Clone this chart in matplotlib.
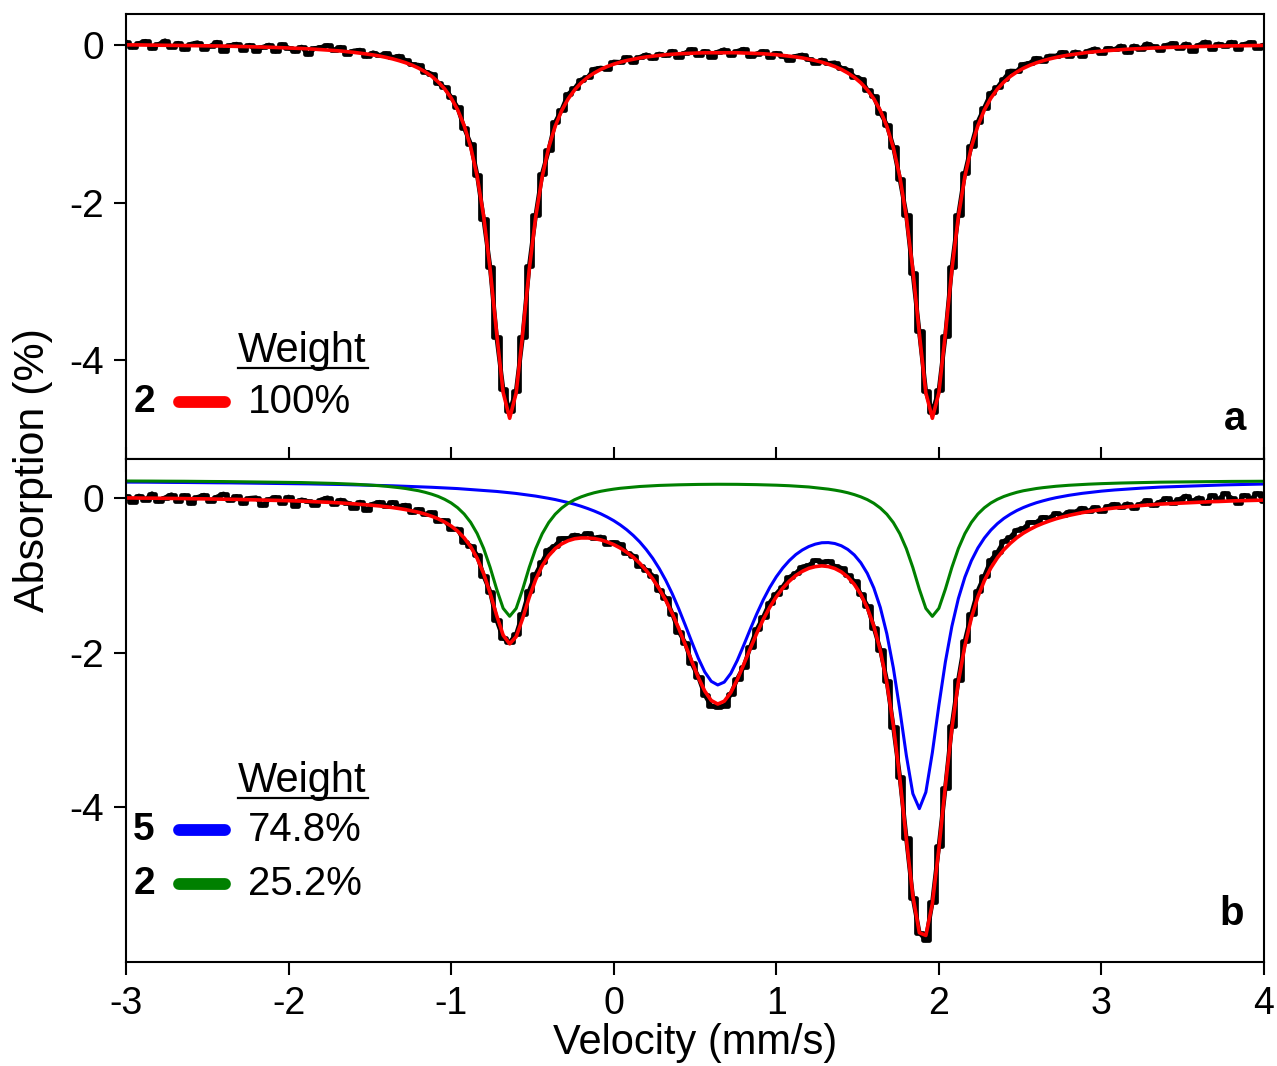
import matplotlib.pyplot as plt
import numpy as np
from matplotlib.lines import Line2D

plt.rcParams['font.family'] = ['Liberation Sans', 'DejaVu Sans']
plt.rcParams['axes.unicode_minus'] = False

# velocity channels, 0.04 mm/s apart
velocity = np.linspace(-3.0, 4.0, 176)

# --- panel a: sample 2, single doublet ---
fit_a = [
    0.002, 0.002, 0.001, 0.000, -0.001, -0.002, -0.003, -0.004, -0.005, -0.006,
    -0.007, -0.008, -0.009, -0.011, -0.012, -0.013, -0.015, -0.017, -0.019, -0.021,
    -0.023, -0.026, -0.028, -0.031, -0.033, -0.037, -0.040, -0.044, -0.048, -0.053,
    -0.058, -0.064, -0.070, -0.076, -0.084, -0.093, -0.103, -0.114, -0.126, -0.140,
    -0.157, -0.176, -0.199, -0.225, -0.256, -0.294, -0.340, -0.396, -0.468, -0.557,
    -0.672, -0.822, -1.022, -1.294, -1.666, -2.175, -2.851, -3.661, -4.412, -4.740,
    -4.418, -3.667, -2.858, -2.183, -1.674, -1.303, -1.031, -0.832, -0.683, -0.569,
    -0.480, -0.410, -0.355, -0.310, -0.273, -0.243, -0.218, -0.197, -0.180, -0.164,
    -0.151, -0.141, -0.132, -0.123, -0.117, -0.111, -0.108, -0.104, -0.101, -0.098,
    -0.098, -0.097, -0.097, -0.098, -0.098, -0.101, -0.104, -0.108, -0.111, -0.117,
    -0.123, -0.132, -0.141, -0.151, -0.164, -0.180, -0.197, -0.218, -0.243, -0.273,
    -0.310, -0.355, -0.410, -0.480, -0.569, -0.683, -0.832, -1.031, -1.303, -1.674,
    -2.183, -2.858, -3.667, -4.418, -4.740, -4.417, -3.666, -2.855, -2.179, -1.669,
    -1.297, -1.025, -0.824, -0.674, -0.559, -0.470, -0.398, -0.342, -0.295, -0.257,
    -0.226, -0.200, -0.177, -0.158, -0.141, -0.127, -0.115, -0.104, -0.093, -0.085,
    -0.077, -0.071, -0.065, -0.059, -0.053, -0.049, -0.045, -0.041, -0.038, -0.034,
    -0.031, -0.028, -0.026, -0.023, -0.021, -0.019, -0.018, -0.016, -0.014, -0.012,
    -0.011, -0.009, -0.008, -0.007, -0.006, -0.005,
]
# measured minus fit
resid_a = [
    0.04, -0.03, 0.02, 0.05, -0.04, 0.01, 0.06, -0.02, 0.03, -0.05,
    0.02, 0.04, -0.04, 0.00, 0.05, -0.06, 0.01, 0.03, -0.04, 0.02,
    -0.05, 0.00, 0.03, -0.05, 0.04, 0.00, -0.04, 0.02, -0.07, 0.01,
    0.03, 0.06, 0.01, 0.05, -0.03, 0.02, 0.04, -0.03, 0.03, 0.01,
    0.05, 0.02, 0.06, 0.03, 0.01, 0.04, 0.00, 0.03, -0.02, 0.02,
    0.01, 0.03, -0.03, 0.04, 0.02, -0.04, 0.03, -0.05, 0.04, 0.09,
    0.03, -0.04, 0.05, 0.02, 0.04, -0.03, 0.05, 0.01, 0.06, 0.02,
    0.04, 0.00, 0.05, 0.02, -0.03, 0.03, 0.00, 0.04, -0.04, 0.01,
    0.03, -0.03, 0.02, -0.01, 0.04, -0.04, 0.01, 0.05, -0.02, 0.02,
    -0.05, 0.01, 0.04, -0.03, 0.02, 0.05, -0.04, 0.00, 0.03, -0.03,
    0.02, -0.01, -0.05, 0.01, 0.04, 0.00, -0.03, 0.03, 0.01, 0.05,
    0.02, 0.04, 0.01, 0.05, 0.00, 0.03, -0.03, 0.02, 0.01, -0.03,
    0.03, -0.04, 0.03, 0.02, 0.08, 0.03, -0.03, 0.04, 0.02, 0.04,
    0.02, 0.05, 0.03, 0.06, 0.02, 0.04, 0.07, 0.01, 0.05, 0.03,
    0.06, 0.00, 0.04, 0.02, 0.05, -0.01, 0.03, -0.03, 0.02, 0.04,
    -0.02, 0.03, 0.01, 0.05, -0.04, 0.04, 0.00, 0.06, 0.02, -0.03,
    0.03, 0.05, -0.01, 0.04, -0.05, 0.02, 0.06, -0.03, 0.03, 0.00,
    0.05, -0.04, 0.02, 0.04, -0.03, 0.01,
]

# --- panel b: mixture, components 5 (blue) and 2 (green) ---
site5_b = [
    0.206, 0.206, 0.205, 0.205, 0.204, 0.204, 0.203, 0.202, 0.202, 0.201,
    0.200, 0.200, 0.199, 0.198, 0.197, 0.197, 0.196, 0.195, 0.194, 0.193,
    0.192, 0.191, 0.190, 0.189, 0.188, 0.187, 0.186, 0.184, 0.183, 0.181,
    0.180, 0.178, 0.177, 0.175, 0.173, 0.171, 0.169, 0.167, 0.165, 0.163,
    0.160, 0.158, 0.155, 0.152, 0.149, 0.146, 0.143, 0.139, 0.135, 0.131,
    0.126, 0.122, 0.116, 0.111, 0.105, 0.099, 0.092, 0.085, 0.077, 0.068,
    0.059, 0.048, 0.037, 0.025, 0.011, -0.004, -0.020, -0.039, -0.059, -0.081,
    -0.107, -0.136, -0.168, -0.204, -0.246, -0.293, -0.348, -0.411, -0.484, -0.568,
    -0.667, -0.780, -0.913, -1.065, -1.239, -1.434, -1.645, -1.862, -2.072, -2.251,
    -2.373, -2.420, -2.383, -2.271, -2.103, -1.904, -1.698, -1.499, -1.317, -1.157,
    -1.020, -0.905, -0.810, -0.732, -0.673, -0.628, -0.597, -0.579, -0.577, -0.589,
    -0.618, -0.666, -0.737, -0.838, -0.976, -1.165, -1.418, -1.758, -2.199, -2.742,
    -3.332, -3.827, -4.021, -3.808, -3.295, -2.686, -2.123, -1.662, -1.301, -1.025,
    -0.812, -0.647, -0.518, -0.415, -0.332, -0.264, -0.209, -0.162, -0.123, -0.090,
    -0.061, -0.037, -0.015, 0.004, 0.020, 0.035, 0.048, 0.060, 0.070, 0.080,
    0.089, 0.097, 0.104, 0.110, 0.117, 0.122, 0.127, 0.132, 0.136, 0.141,
    0.144, 0.148, 0.151, 0.154, 0.157, 0.160, 0.163, 0.165, 0.167, 0.170,
    0.172, 0.174, 0.176, 0.177, 0.179, 0.181,
]
site2_b = [
    0.220, 0.220, 0.219, 0.219, 0.219, 0.218, 0.218, 0.218, 0.217, 0.217,
    0.216, 0.216, 0.215, 0.214, 0.214, 0.213, 0.212, 0.212, 0.211, 0.210,
    0.209, 0.208, 0.207, 0.206, 0.205, 0.203, 0.202, 0.200, 0.198, 0.196,
    0.194, 0.192, 0.189, 0.186, 0.183, 0.179, 0.175, 0.170, 0.165, 0.159,
    0.152, 0.143, 0.134, 0.123, 0.109, 0.094, 0.074, 0.050, 0.021, -0.017,
    -0.064, -0.126, -0.207, -0.315, -0.460, -0.653, -0.899, -1.180, -1.428, -1.531,
    -1.429, -1.181, -0.900, -0.656, -0.463, -0.318, -0.210, -0.130, -0.068, -0.021,
    0.015, 0.044, 0.068, 0.087, 0.102, 0.115, 0.126, 0.134, 0.143, 0.149,
    0.154, 0.159, 0.163, 0.166, 0.169, 0.171, 0.173, 0.175, 0.176, 0.177,
    0.177, 0.178, 0.178, 0.177, 0.177, 0.176, 0.175, 0.173, 0.171, 0.169,
    0.166, 0.163, 0.159, 0.154, 0.149, 0.143, 0.134, 0.126, 0.115, 0.102,
    0.087, 0.068, 0.044, 0.015, -0.021, -0.068, -0.130, -0.210, -0.318, -0.463,
    -0.656, -0.900, -1.181, -1.429, -1.532, -1.428, -1.180, -0.899, -0.654, -0.461,
    -0.316, -0.207, -0.126, -0.064, -0.017, 0.020, 0.049, 0.074, 0.094, 0.109,
    0.123, 0.134, 0.143, 0.152, 0.159, 0.165, 0.170, 0.175, 0.179, 0.183,
    0.186, 0.189, 0.192, 0.194, 0.196, 0.198, 0.200, 0.202, 0.203, 0.205,
    0.206, 0.207, 0.208, 0.209, 0.210, 0.211, 0.212, 0.213, 0.213, 0.214,
    0.215, 0.215, 0.216, 0.216, 0.217, 0.217,
]
fit_b = [
    0.001, 0.001, -0.001, -0.001, -0.002, -0.003, -0.004, -0.005, -0.006, -0.007,
    -0.009, -0.009, -0.011, -0.013, -0.014, -0.015, -0.017, -0.018, -0.020, -0.022,
    -0.024, -0.026, -0.028, -0.030, -0.032, -0.035, -0.037, -0.041, -0.044, -0.048,
    -0.051, -0.055, -0.059, -0.064, -0.069, -0.075, -0.081, -0.088, -0.095, -0.103,
    -0.113, -0.124, -0.136, -0.150, -0.167, -0.185, -0.208, -0.236, -0.269, -0.311,
    -0.363, -0.429, -0.516, -0.629, -0.780, -0.979, -1.232, -1.520, -1.776, -1.888,
    -1.795, -1.558, -1.288, -1.056, -0.877, -0.747, -0.655, -0.594, -0.552, -0.527,
    -0.517, -0.517, -0.525, -0.542, -0.569, -0.603, -0.647, -0.702, -0.766, -0.844,
    -0.938, -1.046, -1.175, -1.324, -1.495, -1.688, -1.897, -2.112, -2.321, -2.499,
    -2.621, -2.667, -2.630, -2.519, -2.351, -2.153, -1.948, -1.751, -1.571, -1.413,
    -1.279, -1.167, -1.076, -1.003, -0.949, -0.910, -0.888, -0.878, -0.887, -0.912,
    -0.956, -1.023, -1.118, -1.248, -1.422, -1.658, -1.973, -2.393, -2.942, -3.630,
    -4.413, -5.152, -5.627, -5.662, -5.252, -4.539, -3.728, -2.986, -2.380, -1.911,
    -1.553, -1.279, -1.069, -0.904, -0.774, -0.669, -0.585, -0.513, -0.454, -0.406,
    -0.363, -0.328, -0.297, -0.269, -0.246, -0.225, -0.207, -0.190, -0.176, -0.162,
    -0.150, -0.139, -0.129, -0.121, -0.112, -0.105, -0.098, -0.091, -0.086, -0.079,
    -0.075, -0.070, -0.066, -0.062, -0.058, -0.054, -0.050, -0.047, -0.045, -0.041,
    -0.038, -0.036, -0.033, -0.032, -0.029, -0.027,
]
resid_b = [
    0.02, -0.05, 0.03, -0.02, 0.06, -0.04, 0.01, 0.05, -0.03, 0.04,
    -0.06, 0.02, 0.05, -0.02, 0.03, 0.07, -0.01, 0.04, -0.05, 0.02,
    0.03, -0.07, 0.01, 0.04, -0.03, 0.05, -0.06, 0.02, 0.00, -0.04,
    0.03, 0.06, -0.02, 0.04, 0.01, -0.05, 0.03, -0.07, 0.02, 0.05,
    0.01, 0.07, 0.03, 0.06, -0.02, 0.04, 0.00, 0.05, -0.03, 0.02,
    -0.04, 0.03, -0.05, 0.01, 0.04, -0.03, 0.02, -0.06, -0.04, 0.02,
    0.03, 0.06, 0.09, 0.07, 0.05, 0.08, 0.04, 0.07, 0.03, 0.05,
    0.02, 0.06, 0.01, 0.04, -0.02, 0.03, 0.05, -0.01, 0.02, -0.03,
    0.01, 0.04, -0.02, 0.03, 0.00, -0.04, 0.02, -0.03, 0.01, -0.05,
    -0.07, -0.04, -0.06, -0.02, 0.01, -0.03, 0.02, 0.05, 0.03, 0.06,
    0.04, 0.02, 0.05, 0.03, 0.06, 0.04, 0.08, 0.05, 0.07, 0.03,
    0.05, 0.02, 0.04, 0.00, 0.03, -0.02, 0.01, 0.03, -0.02, 0.02,
    0.01, -0.02, 0.00, -0.06, 0.02, 0.03, -0.02, 0.04, 0.03, 0.06,
    0.05, 0.08, 0.06, 0.10, 0.07, 0.11, 0.08, 0.10, 0.06, 0.09,
    0.05, 0.08, 0.04, 0.07, 0.02, 0.05, 0.03, 0.06, 0.01, 0.04,
    -0.02, 0.03, 0.05, 0.00, 0.04, -0.03, 0.02, 0.06, -0.01, 0.03,
    0.07, 0.01, 0.05, 0.09, 0.02, 0.06, -0.02, 0.08, 0.03, 0.10,
    0.04, -0.03, 0.07, 0.02, 0.09, -0.01,
]

yticks = [0, -2, -4]
xticks = [-3, -2, -1, 0, 1, 2, 3, 4]

W, H = 1277, 1066
fig = plt.figure(figsize=(W / 100, H / 100), dpi=100)


def fx(x):
    return x / W


def fy(y):
    return 1 - y / H


ax_a = fig.add_axes([fx(126), fy(459), (1264 - 126) / W, (459 - 14) / H])
ax_b = fig.add_axes([fx(126), fy(962), (1264 - 126) / W, (962 - 459) / H])


def measured(ax, fit, resid):
    data = np.add(fit, resid)
    ax.plot(velocity, data, color='black', lw=3.2)
    ax.plot(velocity, data, color='black', lw=3.4, drawstyle='steps-mid')


# panel a
measured(ax_a, fit_a, resid_a)
ax_a.plot(velocity, fit_a, color='#ff0000', lw=2.6)
ax_a.set_ylim(-5.257, 0.394)

# panel b
measured(ax_b, fit_b, resid_b)
ax_b.plot(velocity, site5_b, color='#0000ff', lw=2.2)
ax_b.plot(velocity, site2_b, color='#008000', lw=2.2)
ax_b.plot(velocity, fit_b, color='#ff0000', lw=2.6)
ax_b.set_ylim(-6.006, 0.505)

for ax in (ax_a, ax_b):
    ax.set_xlim(-3, 4)
    ax.set_xticks(xticks)
    ax.set_yticks(yticks)
    for s in ax.spines.values():
        s.set_linewidth(1.5)
    ax.tick_params(axis='y', direction='out', length=9, width=1.5,
                   labelsize=28, pad=7)
    ax.tick_params(axis='x', direction='out', length=9, width=1.5,
                   labelsize=27, pad=8)

ax_a.tick_params(axis='x', labelbottom=False)
ax_b.tick_params(axis='x', top=True)

# axis titles
fig.text(fx(33), fy(470), 'Absorption (%)', rotation=90, ha='center',
         va='center', fontsize=31)
fig.text(fx(695), fy(1043), 'Velocity (mm/s)', ha='center', va='center',
         fontsize=30)

# panel letters
fig.text(fx(1235), fy(430), 'a', ha='center', va='baseline', fontsize=29,
         fontweight='bold')
fig.text(fx(1232), fy(925), 'b', ha='center', va='baseline', fontsize=29,
         fontweight='bold')


def weight_header(y_base):
    fig.text(fx(238), fy(y_base), 'Weight', ha='left', va='baseline',
             fontsize=30)
    fig.add_artist(Line2D([fx(238), fx(368)], [fy(y_base + 6), fy(y_base + 6)],
                          color='black', lw=1.6))


def legend_row(y, tag, color, label):
    fig.text(fx(144), fy(y), tag, ha='center', va='center', fontsize=28,
             fontweight='bold')
    fig.add_artist(Line2D([fx(179), fx(225)], [fy(y), fy(y)], color=color,
                          lw=8.5, solid_capstyle='round'))
    fig.text(fx(248), fy(y), label, ha='left', va='center', fontsize=29)


weight_header(362)
legend_row(402, '2', '#ff0000', '100%')

weight_header(792)
legend_row(830, '5', '#0000ff', '74.8%')
legend_row(884, '2', '#008000', '25.2%')

fig.savefig('out.png', dpi=100)
